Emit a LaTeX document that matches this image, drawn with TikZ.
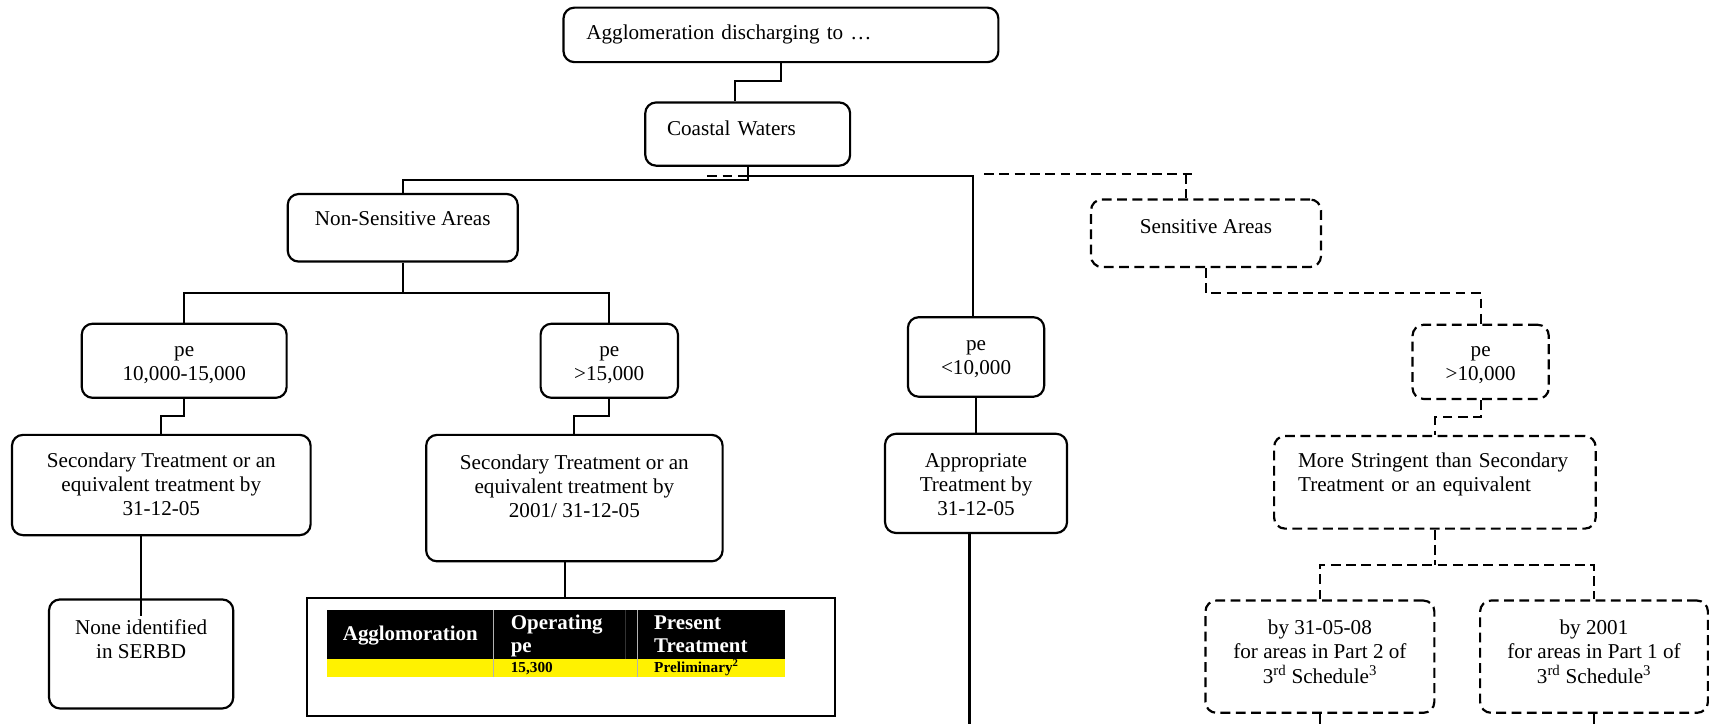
\documentclass[tikz,border=0pt]{standalone}
\usepackage{fontspec}
\setmainfont{Liberation Serif}
\newcommand{\mytabc}[1]{\begin{tabular}[t]{@{}c@{}}#1\end{tabular}}
\newcommand{\mytabl}[1]{\begin{tabular}[t]{@{}l@{}}#1\end{tabular}}
\begin{document}
\begin{tikzpicture}[x=1pt,y=-1pt,
  every node/.style={font=\fontsize{19.4}{22}\selectfont},
  box/.style={draw, rounded corners=10pt, line width=2pt, inner ysep=0pt, inner xsep=0pt, text height=14pt},
  dbox/.style={box, dash pattern=on 9pt off 5pt},
  conn/.style={line width=1.9pt},
  dconn/.style={conn, dash pattern=on 9pt off 5pt},
  hdr/.style={anchor=base west, inner sep=0pt, text=white, font=\bfseries\fontsize{19.2}{21}\selectfont},
  cell/.style={anchor=base west, inner sep=0pt, font=\bfseries\fontsize{14}{16}\selectfont}
]
\useasboundingbox (0,0) rectangle (1568,664);

% boxes
\node[box, text width=357pt, inner xsep=21pt, minimum height=50pt, text depth=6pt, align=left] (A) at (716.5,32) {\noindent\mytabl{Agglomeration discharging to …}};
\node[box, text width=148pt, inner xsep=20pt, minimum height=58pt, text depth=12pt, align=left] (C) at (686,123) {\noindent\mytabl{Coastal Waters}};
\node[box, minimum width=211pt, minimum height=62pt, text depth=18pt] (NS) at (369.5,209) {\mytabc{Non-Sensitive Areas}};
\node[dbox, minimum width=211pt, minimum height=62pt, text depth=14pt] (S) at (1106.5,214) {\mytabc{Sensitive Areas}};
\node[box, minimum width=188pt, minimum height=68pt, text depth=22pt] (pe1) at (169,331) {\mytabc{pe\\10,000-15,000}};
\node[box, minimum width=126pt, minimum height=68pt, text depth=22pt] (pe2) at (559,331) {\mytabc{pe\\>15,000}};
\node[box, minimum width=125pt, minimum height=73pt, text depth=25pt] (peL) at (895.5,327.5) {\mytabc{pe\\<10,000}};
\node[dbox, minimum width=125pt, minimum height=68pt, text depth=24pt] (pH) at (1358.5,332) {\mytabc{pe\\>10,000}};
\node[box, minimum width=274pt, minimum height=92pt, text depth=46pt] (sec1) at (148,445) {\mytabc{Secondary Treatment or an\\equivalent treatment by\\31-12-05}};
\node[box, minimum width=272pt, minimum height=116pt, text depth=66pt] (sec2) at (527,457) {\mytabc{Secondary Treatment or an\\equivalent treatment by\\2001/ 31-12-05}};
\node[box, minimum width=167pt, minimum height=91pt, text depth=43pt] (app) at (895.5,443.5) {\mytabc{Appropriate\\Treatment by\\31-12-05}};
\node[dbox, text width=251pt, inner xsep=22pt, minimum height=85pt, text depth=41pt, align=left] (more) at (1316.5,442.5) {\noindent\mytabl{More Stringent than Secondary\\Treatment or an equivalent}};
\node[box, minimum width=169pt, minimum height=100pt, text depth=50pt] (none) at (129.5,600) {\mytabc{None identified\\in SERBD}};
\node[dbox, minimum width=210pt, minimum height=103pt, text depth=55pt] (by1) at (1211,602.5) {\mytabc{by 31-05-08\\for areas in Part 2 of\\3\textsuperscript{rd} Schedule\textsuperscript{3}}};
\node[dbox, minimum width=209pt, minimum height=103pt, text depth=55pt] (by2) at (1462.5,602.5) {\mytabc{by 2001\\for areas in Part 1 of\\3\textsuperscript{rd} Schedule\textsuperscript{3}}};

% table
\node[draw, line width=1.9pt, minimum width=484pt, minimum height=108pt, inner sep=0pt] (tbl) at (524,603) {};
\fill[black] (300,560) rectangle (720,605);
\fill[yellow] (300,605) rectangle (720,621);
\draw[gray!60, line width=0.8pt] (453,560) -- (453,621);
\draw[gray!60, line width=0.8pt] (585,560) -- (585,621);
\draw[gray!40!black, line width=0.6pt] (574,560) -- (574,605);
\node[hdr] (h1) at (314.4,588) {Agglomoration};
\node[hdr] (h2) at (468.5,578) {\mytabl{Operating\\pe}};
\node[hdr] (h3) at (600,578) {\mytabl{Present\\Treatment}};
\node[cell] (v2) at (468.5,617) {15,300};
\node[cell] (v3) at (600,617) {Preliminary\textsuperscript{2}};

% connectors
\draw[conn] (A.south) -- ++(0,16) -| ([xshift=-12pt]C.north);
\draw[conn] (C.south) -- ++(0,12.5) -| (NS.north);
\draw[conn] ([yshift=-8.5pt]C.south) -| ([xshift=-2.5pt]peL.north);
\draw[dconn] ([xshift=-37pt,yshift=-8.5pt]C.south) -- ([yshift=-8.5pt]C.south);
\coordinate (sa) at (903,159.6);
\coordinate (sb) at (1098,159.6);
\draw[dconn] (sa) -- (sb);
\coordinate (st) at ([xshift=-18.5pt]S.north);
\draw[dconn] (st |- sa) -- (st);

\draw[conn] (NS.south) -- ++(0,28) coordinate (nsj);
\draw[conn] (pe1.north) |- (nsj) -| (pe2.north);
\draw[conn] (pe1.south) -- ++(0,16) -| (sec1.north);
\draw[conn] (pe2.south) -- ++(0,16) -| (sec2.north);
\draw[conn] (none.north |- sec1.south) -- ([yshift=-16pt]none.north);
\coordinate (s2b) at ([xshift=-9pt]sec2.south);
\draw[conn] (s2b) -- (s2b |- tbl.north);
\draw[conn] (peL.south) -- (app.north);
\coordinate (e3) at (889.5,664);
\draw[conn] (app.south -| e3) -- (e3);

\draw[dconn] (S.south) -- ++(0,23) -| (pH.north);
\draw[dconn] (pH.south) -- ++(0,16) -| (more.north);
\draw[dconn] (more.south) -- ++(0,32) coordinate (mj);
\draw[dconn] (by1.north) |- (mj) -| (by2.north);
\coordinate (e1) at (1211,664);
\coordinate (e2) at (1462.5,664);
\draw[dconn] (by1.south) -- (e1);
\draw[dconn] (by2.south) -- (e2);
\end{tikzpicture}
\end{document}
